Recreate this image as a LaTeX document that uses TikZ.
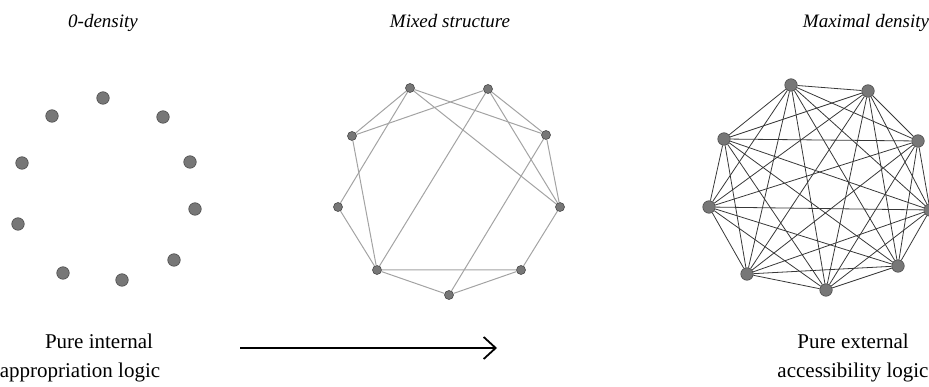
\documentclass[tikz,border=0pt]{standalone}
\usepackage{fontspec}
\setmainfont{Liberation Serif}
\usetikzlibrary{arrows.meta}
\definecolor{DotFill}{HTML}{777777}
\definecolor{DotRim}{HTML}{4A4A4A}
\definecolor{PaleLink}{HTML}{A3A3A3}
\definecolor{DarkLink}{HTML}{383838}

\begin{document}
\begin{tikzpicture}[x=1pt, y=-1pt,
    dot/.style={circle, draw=DotRim, fill=DotFill, minimum size=12.5pt, inner sep=0pt, line width=0.6pt},
    smalldot/.style={dot, minimum size=9pt},
    title/.style={anchor=base, font=\fontsize{19}{22}\selectfont\itshape},
    caption/.style={align=center, font=\fontsize{21}{29}\selectfont},
    pale/.style={draw=PaleLink, line width=1pt},
    dark/.style={draw=DarkLink, line width=0.8pt},
    arrow/.style={-{Straight Barb[length=12pt, width=22pt]}, line width=1.8pt}
  ]
    \useasboundingbox (0,0) rectangle (929,387);

    % titles
    \node[title] (tzero) at (103,28) {0-density};
    \node[title] (tmixed) at (450,28) {Mixed structure};
    \node[title] (tmax) at (866,28) {Maximal density};

    % 0-density: nodes only
    \node[dot] (z1) at (103,98) {};
    \node[dot] (z2) at (163,117) {};
    \node[dot] (z3) at (190,162) {};
    \node[dot] (z4) at (195,209) {};
    \node[dot] (z5) at (174,260) {};
    \node[dot] (z6) at (122,280) {};
    \node[dot] (z7) at (63,273) {};
    \node[dot] (z8) at (18,224) {};
    \node[dot] (z9) at (22,163) {};
    \node[dot] (z10) at (52,116) {};

    % mixed structure
    \node[smalldot] (ma) at (410,88) {};
    \node[smalldot] (mb) at (488,89) {};
    \node[smalldot] (mc) at (352,136) {};
    \node[smalldot] (md) at (546,135) {};
    \node[smalldot] (me) at (338,207) {};
    \node[smalldot] (mf) at (560,207) {};
    \node[smalldot] (mg) at (377,270) {};
    \node[smalldot] (mh) at (521,270) {};
    \node[smalldot] (mi) at (449,295) {};
    \draw[pale] (ma) -- (mc) (ma) -- (me) (ma) -- (md) (ma) -- (mf);
    \draw[pale] (mb) -- (mc) (mb) -- (mg) (mb) -- (md) (mb) -- (mf);
    \draw[pale] (md) -- (mf) (md) -- (mi) (mf) -- (mh);
    \draw[pale] (me) -- (mg) (mc) -- (mg) (mg) -- (mh) (mg) -- (mi) (mh) -- (mi);

    % maximal density: every pair linked
    \node[dot] (x1) at (791,85) {};
    \node[dot] (x2) at (868,91) {};
    \node[dot] (x3) at (918,141) {};
    \node[dot] (x4) at (930,210) {};
    \node[dot] (x5) at (898,266) {};
    \node[dot] (x6) at (826,290) {};
    \node[dot] (x7) at (747,274) {};
    \node[dot] (x8) at (709,207) {};
    \node[dot] (x9) at (724,139) {};
    \foreach \i in {1,...,8} {
      \pgfmathtruncatemacro{\nxt}{\i+1}
      \foreach \j in {\nxt,...,9} {
        \draw[dark] (x\i) -- (x\j);
      }
    }

    % bottom line
    \node[caption] (inner) at (80,358) {\hspace*{38pt}Pure internal\\appropriation logic};
    \node[caption] (outer) at (853,358) {Pure external\\accessibility logic};
    \coordinate (from) at (240,348);
    \coordinate (to) at (497,348);
    \draw[arrow] (from) -- (to);
  \end{tikzpicture}
\end{document}
